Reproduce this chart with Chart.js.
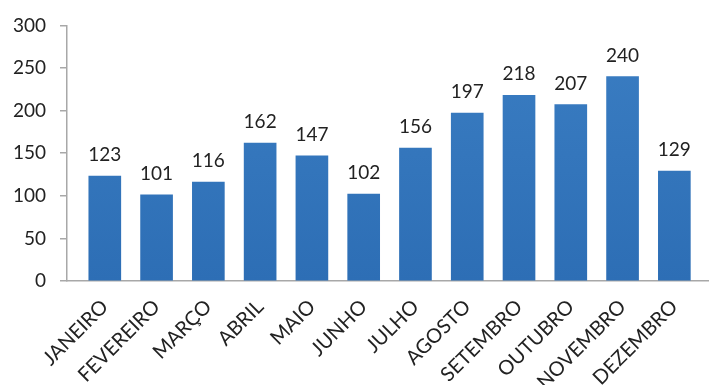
<!DOCTYPE html>
<html>
<head>
<meta charset="utf-8">
<script src="https://cdn.jsdelivr.net/npm/chart.js@4"></script>
<style>
  html, body { margin: 0; padding: 0; background: #fff; }
  #wrap { width: 710px; height: 385px; }
</style>
</head>
<body>
<div id="wrap"><canvas id="myChart" width="710" height="385"></canvas></div>
<script>
const meses = ['JANEIRO', 'FEVEREIRO', 'MARÇO', 'ABRIL', 'MAIO', 'JUNHO',
  'JULHO', 'AGOSTO', 'SETEMBRO', 'OUTUBRO', 'NOVEMBRO', 'DEZEMBRO'];
const valores = [123, 101, 116, 162, 147, 102, 156, 197, 218, 207, 240, 129];
const yTicks = [0, 50, 100, 150, 200, 250, 300];

const fonte = 'Lato, "Open Sans", sans-serif';

// labels above the bars (no datalabels plugin offline)
const rotulos = {
  id: 'rotulos',
  afterDatasetsDraw(chart) {
    const ctx = chart.ctx;
    const meta = chart.getDatasetMeta(0);
    ctx.save();
    ctx.font = '19px ' + fonte;
    ctx.fillStyle = '#222';
    ctx.textAlign = 'center';
    ctx.textBaseline = 'alphabetic';
    meta.data.forEach(function(bar, i) {
      ctx.fillText(valores[i], bar.x, bar.y - 15);
    });
    ctx.restore();
  }
};

const ctx = document.getElementById('myChart').getContext('2d');

const data = {
  datasets: [{
    data: valores.map(function(v, i) { return { x: i, y: v }; }),
    backgroundColor: function(c) {
      const area = c.chart.chartArea;
      if (!area) return '#377BC0';
      const g = c.chart.ctx.createLinearGradient(0, area.top, 0, area.bottom);
      g.addColorStop(0, '#3B7EC3');
      g.addColorStop(1, '#2D6EB5');
      return g;
    },
    barThickness: 32
  }]
};

const config = {
  type: 'bar',
  data: data,
  plugins: [rotulos],
  options: {
    responsive: false,
    animation: false,
    layout: { padding: { top: 15, right: 2, left: 0, bottom: 0 } },
    plugins: { legend: { display: false }, tooltip: { enabled: false } },
    scales: {
      x: {
        type: 'linear',
        offset: false,
        min: -0.73,
        max: 11.65,
        afterBuildTicks: function(s) {
          s.ticks = meses.map(function(m, i) { return { value: i }; });
        },
        grid: { display: false, drawTicks: false, offset: false },
        border: { display: true, color: '#A8A8A8', width: 1.5 },
        ticks: {
          autoSkip: false,
          minRotation: 45,
          maxRotation: 45,
          padding: 14,
          color: '#222',
          font: { family: fonte, size: 20 },
          callback: function(v) { return meses[v]; }
        },
        afterFit: function(s) { s.height = 104; }
      },
      y: {
        min: 0,
        max: 300,
        afterBuildTicks: function(s) {
          s.ticks = yTicks.map(function(v) { return { value: v }; });
        },
        grid: { display: true, drawOnChartArea: false, drawTicks: true, tickLength: 7, color: '#A8A8A8', lineWidth: 1.5 },
        border: { display: true, color: '#A8A8A8', width: 1.5 },
        ticks: {
          padding: 14,
          color: '#222',
          font: { family: fonte, size: 19 }
        },
        afterFit: function(s) { s.width = 67; }
      }
    }
  }
};

const myChart = new Chart(ctx, config);
</script>
</body>
</html>
